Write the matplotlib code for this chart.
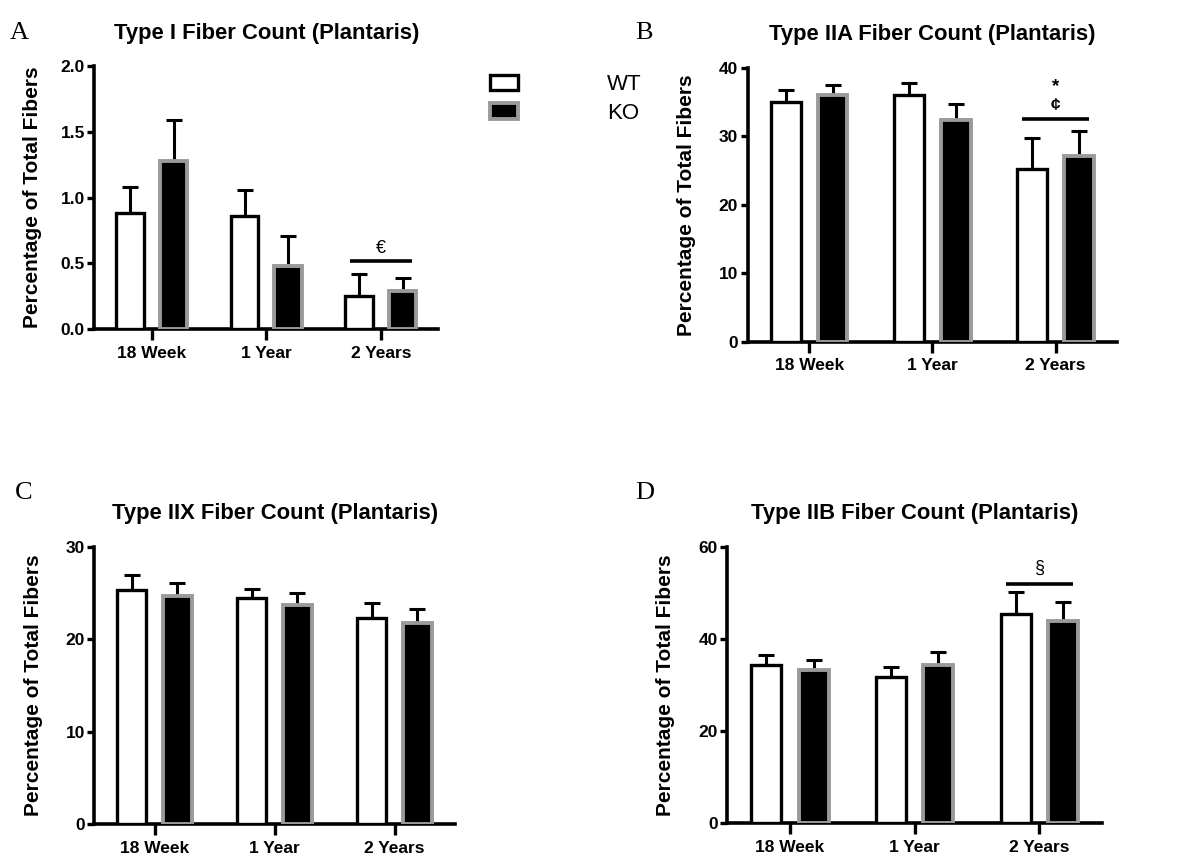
import matplotlib
matplotlib.use("Agg")
import matplotlib.pyplot as plt
from matplotlib.patches import Patch
import numpy as np

plt.rcParams['font.family'] = ['Liberation Sans', 'DejaVu Sans']
plt.rcParams['font.weight'] = 'bold'

groups = ["18 Week", "1 Year", "2 Years"]

# panel A - Type I
a_wt = [0.88, 0.86, 0.25]
a_wt_err = [0.20, 0.20, 0.17]
a_ko = [1.28, 0.48, 0.29]
a_ko_err = [0.31, 0.23, 0.10]

# panel B - Type IIA
b_wt = [35.0, 36.1, 25.3]
b_wt_err = [1.8, 1.7, 4.5]
b_ko = [36.0, 32.4, 27.2]
b_ko_err = [1.5, 2.4, 3.6]

# panel C - Type IIX
c_wt = [25.3, 24.5, 22.3]
c_wt_err = [1.6, 0.9, 1.6]
c_ko = [24.7, 23.7, 21.7]
c_ko_err = [1.4, 1.3, 1.6]

# panel D - Type IIB
d_wt = [34.4, 31.8, 45.3]
d_wt_err = [2.1, 2.0, 4.9]
d_ko = [33.3, 34.3, 43.8]
d_ko_err = [2.2, 2.9, 4.2]

panels = [
    ("A", "Type I Fiber Count (Plantaris)", a_wt, a_wt_err, a_ko, a_ko_err,
     [0.0, 0.5, 1.0, 1.5, 2.0], "{:.1f}", [0.08, 0.618, 0.291, 0.305], 13),
    ("B", "Type IIA Fiber Count (Plantaris)", b_wt, b_wt_err, b_ko, b_ko_err,
     [0, 10, 20, 30, 40], "{:.0f}", [0.633, 0.603, 0.313, 0.318], 16),
    ("C", "Type IIX Fiber Count (Plantaris)", c_wt, c_wt_err, c_ko, c_ko_err,
     [0, 10, 20, 30], "{:.0f}", [0.08, 0.043, 0.305, 0.322], 16),
    ("D", "Type IIB Fiber Count (Plantaris)", d_wt, d_wt_err, d_ko, d_ko_err,
     [0, 20, 40, 60], "{:.0f}", [0.616, 0.044, 0.317, 0.321], 17),
]

fig = plt.figure(figsize=(11.81, 8.61), dpi=100)
x = np.arange(len(groups))
w = 0.24
off = 0.19
axes = {}

for letter, title, wt, wt_err, ko, ko_err, yt, fmt, pos, lpad in panels:
    ax = fig.add_axes(pos)
    axes[letter] = ax
    ax.bar(x - off, wt, w, color="white", edgecolor="black", linewidth=2.4, zorder=3)
    ax.bar(x + off, ko, w, color="black", edgecolor="#9a9a9a", linewidth=2.8, zorder=3)
    ax.errorbar(x - off, wt, yerr=[[0] * 3, wt_err], fmt="none", ecolor="black",
                elinewidth=2.2, capsize=6, capthick=2.2, zorder=2)
    ax.errorbar(x + off, ko, yerr=[[0] * 3, ko_err], fmt="none", ecolor="black",
                elinewidth=2.2, capsize=6, capthick=2.2, zorder=2)
    ax.set_xlim(-0.5, 2.5)
    ax.set_ylim(yt[0], yt[-1])
    ax.set_yticks(yt)
    ax.set_yticklabels([fmt.format(v) for v in yt])
    ax.set_xticks(x)
    ax.set_xticklabels(groups)
    ax.spines["top"].set_visible(False)
    ax.spines["right"].set_visible(False)
    ax.spines["left"].set_linewidth(2.6)
    ax.spines["bottom"].set_linewidth(2.6)
    ax.tick_params(axis="y", direction="out", length=5, width=2.4, labelsize=12.5, pad=2)
    ax.tick_params(axis="x", direction="out", length=8, width=2.4, labelsize=12.5, pad=4)
    ax.set_ylabel("Percentage of Total Fibers", fontsize=15, fontweight="bold", labelpad=lpad)
    ax.set_title(title, fontsize=15.8, fontweight="bold", pad=20)

# significance brackets
ax = axes["A"]
ax.plot([2 - 0.27, 2 + 0.27], [0.52, 0.52], color="black", lw=2.6, solid_capstyle="butt", clip_on=False)
ax.text(2, 0.55, "€", ha="center", va="bottom", fontsize=13, fontweight="normal")

ax = axes["B"]
ax.plot([2 - 0.27, 2 + 0.27], [32.6, 32.6], color="black", lw=2.6, solid_capstyle="butt", clip_on=False)
ax.text(2, 33.4, "¢", ha="center", va="bottom", fontsize=12.5, fontweight="bold")
ax.text(2, 36.0, "*", ha="center", va="bottom", fontsize=13.5, fontweight="bold")

ax = axes["D"]
ax.plot([2 - 0.27, 2 + 0.27], [52.0, 52.0], color="black", lw=2.6, solid_capstyle="butt", clip_on=False)
ax.text(2, 53.5, "§", ha="center", va="bottom", fontsize=13, fontweight="normal")

# panel letters
for letter, (px, py) in {"A": (0.008, 0.962), "B": (0.538, 0.962),
                         "C": (0.013, 0.427), "D": (0.538, 0.427)}.items():
    fig.text(px, py, letter, fontsize=19, fontweight="normal",
             family=["Liberation Serif", "DejaVu Serif"], ha="left", va="center")

handles = [Patch(facecolor="white", edgecolor="black", linewidth=2.4, label="WT"),
           Patch(facecolor="black", edgecolor="#9a9a9a", linewidth=2.8, label="KO")]
fig.legend(handles=handles, loc="upper left", bbox_to_anchor=(0.398, 0.937),
           frameon=False, prop={"size": 16, "weight": "normal"},
           handlelength=1.25, handleheight=0.7, handletextpad=4.0, labelspacing=0.35)

fig.savefig("out.png", dpi=100)
